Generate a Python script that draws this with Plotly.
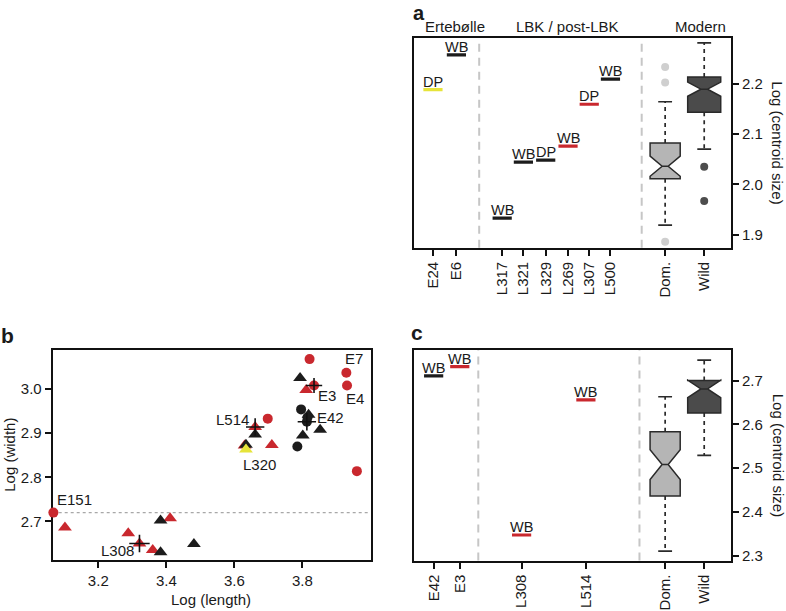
import plotly.graph_objects as go

# ---------------- data: panel a (upper right) ----------------
a_ticks = ["E24", "E6", "L317", "L321", "L329", "L269", "L307", "L500", "Dom.", "Wild"]
a_spec = ["E24", "E6", "L317", "L321", "L329", "L269", "L307", "L500"]
a_spec_label = ["DP", "WB", "WB", "WB", "DP", "WB", "DP", "WB"]
a_spec_value = [2.188, 2.257, 1.933, 2.044, 2.048, 2.076, 2.159, 2.209]
a_spec_group = ["Y", "K", "K", "K", "K", "R", "R", "K"]
a_box_name = ["Dom.", "Wild"]
a_box_q1 = [2.011, 2.143]
a_box_median = [2.036, 2.189]
a_box_q3 = [2.082, 2.213]
a_box_low = [1.919, 2.070]
a_box_high = [2.164, 2.281]
a_box_notch = [0.02, 0.014]
a_box_out = [[2.233, 2.202, 1.886], [2.035, 1.967]]
a_periods = ["Ertebølle", "LBK / post-LBK", "Modern"]
a_yticks = [1.9, 2.0, 2.1, 2.2]

# ---------------- data: panel c (lower right) ----------------
c_ticks = ["E42", "E3", "L308", "L514", "Dom.", "Wild"]
c_spec = ["E42", "E3", "L308", "L514"]
c_spec_label = ["WB", "WB", "WB", "WB"]
c_spec_value = [2.711, 2.732, 2.347, 2.656]
c_spec_group = ["K", "R", "R", "R"]
c_box_name = ["Dom.", "Wild"]
c_box_q1 = [2.436, 2.626]
c_box_median = [2.508, 2.681]
c_box_q3 = [2.583, 2.700]
c_box_low = [2.310, 2.529]
c_box_high = [2.663, 2.747]
c_box_notch = [0.034, 0.02]
c_yticks = [2.3, 2.4, 2.5, 2.6, 2.7]

# ---------------- data: panel b (scatter) ----------------
b_red_circle_x = [3.068, 3.821, 3.929, 3.931, 3.834, 3.698, 3.960]
b_red_circle_y = [2.720, 3.068, 3.037, 3.008, 3.008, 2.933, 2.814]
b_red_tri_x = [3.811, 3.661, 3.710, 3.630, 3.102, 3.288, 3.411, 3.321, 3.360]
b_red_tri_y = [2.998, 2.914, 2.873, 2.872, 2.686, 2.673, 2.707, 2.650, 2.635]
b_black_tri_x = [3.793, 3.661, 3.634, 3.801, 3.852, 3.818, 3.383, 3.383, 3.481]
b_black_tri_y = [3.025, 2.897, 2.874, 2.895, 2.908, 2.942, 2.702, 2.630, 2.649]
b_black_circle_x = [3.796, 3.815, 3.813, 3.785]
b_black_circle_y = [2.954, 2.936, 2.926, 2.870]
b_yellow_tri_x = [3.634]
b_yellow_tri_y = [2.863]
b_label_name = ["E151", "E7", "E4", "E3", "E42", "L514", "L320", "L308"]
b_label_x = [3.068, 3.929, 3.931, 3.834, 3.813, 3.661, 3.634, 3.321]
b_label_y = [2.720, 3.037, 3.008, 3.008, 2.926, 2.914, 2.863, 2.650]
b_err_x = [3.834, 3.813, 3.661, 3.321]
b_err_y = [3.008, 2.926, 2.914, 2.650]
b_err_dx = [0.024, 0.027, 0.027, 0.030]
b_err_dy = [0.017, 0.020, 0.020, 0.020]
b_ref_width = 2.72
b_xticks = [3.2, 3.4, 3.6, 3.8]
b_yticks = [2.7, 2.8, 2.9, 3.0]

# ---------------- layout / style ----------------
W, H = 786, 611
def PX(x):
    return x / W
def PY(y):
    return 1 - y / H

FONT = "Liberation Sans, Arial, Helvetica, sans-serif"
TXT = "#1a1a1a"
COL = {"K": "#1c1c1c", "R": "#c9282e", "Y": "#e6e43a"}
a_pos = dict(zip(a_ticks, [0.85, 1.9, 3.95, 4.9, 5.9, 6.9, 7.85, 8.8, 11.25, 13.0]))
c_pos = dict(zip(c_ticks, [0.88, 2.05, 4.82, 7.7, 11.25, 13.0]))
a_div = [2.92, 10.2]
c_div = [2.88, 10.1]
SEG = 0.43
CAP = 0.31
BOX_W = [1.35, 1.48]
BOX_FILL = ["#b5b5b5", "#4b4b4b"]
OUT_COL = ["#cfcfcf", "#4d4d4d"]
b_label_shift = {"E151": (21, 13), "E7": (8, 14), "E4": (8, -13), "E3": (13, -10),
                 "E42": (24, 4), "L514": (-23, 8), "L320": (14, -15), "L308": (-22, -7)}

fig = go.Figure()


def add_specimens(xa, ya, ids, labels, values, groups, pos):
    for sid, lab, val, g in zip(ids, labels, values, groups):
        x0 = pos[sid]
        fig.add_trace(go.Scatter(x=[x0 - SEG, x0 + SEG], y=[val, val], mode="lines",
                                 line=dict(color=COL[g], width=3.2), xaxis=xa, yaxis=ya,
                                 showlegend=False, hoverinfo="skip"))
        fig.add_annotation(x=x0, y=val, xref=xa, yref=ya, text=lab, showarrow=False,
                           yanchor="bottom", yshift=-2,
                           font=dict(size=14.5, color=TXT, family=FONT))


def add_boxes(xa, ya, names, q1, med, q3, lo, hi, notch, pos, outliers=None):
    for i, n in enumerate(names):
        x0 = pos[n]
        fig.add_trace(go.Box(x=[x0], q1=[q1[i]], median=[med[i]], q3=[q3[i]],
                             lowerfence=[q1[i]], upperfence=[q3[i]],
                             notched=True, notchspan=[notch[i]], notchwidth=0.4,
                             width=BOX_W[i], fillcolor=BOX_FILL[i],
                             line=dict(color="#2a2a2a", width=1.5), whiskerwidth=0,
                             boxpoints=False, xaxis=xa, yaxis=ya, showlegend=False,
                             hoverinfo="skip"))
        fig.add_trace(go.Scatter(x=[x0, x0, None, x0, x0],
                                 y=[q3[i], hi[i], None, q1[i], lo[i]], mode="lines",
                                 line=dict(color="#2a2a2a", width=1.7, dash="4px,4px"),
                                 xaxis=xa, yaxis=ya, showlegend=False, hoverinfo="skip"))
        fig.add_trace(go.Scatter(x=[x0 - CAP, x0 + CAP, None, x0 - CAP, x0 + CAP],
                                 y=[hi[i], hi[i], None, lo[i], lo[i]], mode="lines",
                                 line=dict(color="#2a2a2a", width=1.7),
                                 xaxis=xa, yaxis=ya, showlegend=False, hoverinfo="skip"))
        if outliers is not None:
            fig.add_trace(go.Scatter(x=[x0] * len(outliers[i]), y=outliers[i], mode="markers",
                                     marker=dict(color=OUT_COL[i], size=8),
                                     xaxis=xa, yaxis=ya, showlegend=False, hoverinfo="skip"))


# panel a
add_specimens("x2", "y2", a_spec, a_spec_label, a_spec_value, a_spec_group, a_pos)
add_boxes("x2", "y2", a_box_name, a_box_q1, a_box_median, a_box_q3, a_box_low, a_box_high,
          a_box_notch, a_pos, a_box_out)
# panel c
add_specimens("x3", "y3", c_spec, c_spec_label, c_spec_value, c_spec_group, c_pos)
add_boxes("x3", "y3", c_box_name, c_box_q1, c_box_median, c_box_q3, c_box_low, c_box_high,
          c_box_notch, c_pos)

# panel b
def pts(xs, ys, color, symbol, size, clip=True):
    fig.add_trace(go.Scatter(x=xs, y=ys, mode="markers", cliponaxis=clip,
                             marker=dict(color=color, symbol=symbol, size=size, line=dict(width=0)),
                             xaxis="x", yaxis="y", showlegend=False, hoverinfo="skip"))

pts(b_red_circle_x, b_red_circle_y, COL["R"], "circle", 10, clip=False)
pts(b_red_tri_x, b_red_tri_y, COL["R"], "triangle-up", 12)
pts(b_black_tri_x, b_black_tri_y, COL["K"], "triangle-up", 12)
pts(b_black_circle_x, b_black_circle_y, COL["K"], "circle", 10)
pts(b_yellow_tri_x, b_yellow_tri_y, COL["Y"], "triangle-up", 12)
cx, cy = [], []
for x, y, dx, dy in zip(b_err_x, b_err_y, b_err_dx, b_err_dy):
    cx += [x - dx, x + dx, None, x, x, None]
    cy += [y, y, None, y - dy, y + dy, None]
fig.add_trace(go.Scatter(x=cx, y=cy, mode="lines", line=dict(color="#111", width=1.6),
                         xaxis="x", yaxis="y", showlegend=False, hoverinfo="skip"))
for n, x, y in zip(b_label_name, b_label_x, b_label_y):
    sx, sy = b_label_shift[n]
    fig.add_annotation(x=x, y=y, xref="x", yref="y", text=n, showarrow=False,
                       xshift=sx, yshift=sy, font=dict(size=15, color=TXT, family=FONT))

shapes = []
for d in a_div:
    shapes.append(dict(type="line", xref="x2", yref="y2 domain", x0=d, x1=d, y0=0, y1=1,
                       line=dict(color="#c6c6c6", width=2, dash="8px,6px"), layer="below"))
for d in c_div:
    shapes.append(dict(type="line", xref="x3", yref="y3 domain", x0=d, x1=d, y0=0, y1=1,
                       line=dict(color="#c6c6c6", width=2, dash="8px,6px"), layer="below"))
shapes.append(dict(type="line", xref="x domain", yref="y", x0=0, x1=1, y0=b_ref_width,
                   y1=b_ref_width, line=dict(color="#a8a8a8", width=1.3, dash="dot"),
                   layer="below"))

ax_common = dict(showline=True, mirror=True, linecolor="#111", linewidth=2, ticks="outside",
                 ticklen=6, tickwidth=1.5, tickcolor="#111", showgrid=False, zeroline=False,
                 tickfont=dict(size=15, color=TXT, family=FONT), fixedrange=True)

fig.update_layout(
    width=W, height=H, margin=dict(l=0, r=0, t=0, b=0),
    paper_bgcolor="white", plot_bgcolor="white",
    font=dict(family=FONT, size=15, color=TXT),
    shapes=shapes,
    xaxis=dict(ax_common, domain=[PX(52.7), PX(370.5)], anchor="y", range=[3.066, 4.0],
               tickvals=b_xticks, tickformat=".1f", layer="below traces"),
    yaxis=dict(ax_common, domain=[PY(563), PY(351.7)], anchor="x", range=[2.612, 3.0887],
               tickvals=b_yticks, tickformat=".1f", layer="below traces"),
    xaxis2=dict(ax_common, domain=[PX(414), PX(731)], anchor="y2", range=[0, 14.2],
                tickvals=[a_pos[t] for t in a_ticks], ticktext=a_ticks, tickangle=-90),
    yaxis2=dict(ax_common, domain=[PY(249), PY(38)], anchor="x2", side="right",
                range=[1.874, 2.291], tickvals=a_yticks, tickformat=".1f"),
    xaxis3=dict(ax_common, domain=[PX(414), PX(731)], anchor="y3", range=[0, 14.2],
                tickvals=[c_pos[t] for t in c_ticks], ticktext=c_ticks, tickangle=-90),
    yaxis3=dict(ax_common, domain=[PY(563.3), PY(351.7)], anchor="x3", side="right",
                range=[2.2886, 2.770], tickvals=c_yticks, tickformat=".1f"),
)

def paper_text(x, y, text, size=15, angle=0, yanchor="middle"):
    fig.add_annotation(x=PX(x), y=PY(y), xref="paper", yref="paper", text=text,
                       showarrow=False, textangle=angle, xanchor="center", yanchor=yanchor,
                       font=dict(size=size, color=TXT, family=FONT))

for name, x in zip(a_periods, [455, 567, 700]):
    paper_text(x, 27, name)
paper_text(778, 143, "Log (centroid size)", angle=90)
paper_text(778, 457, "Log (centroid size)", angle=90)
paper_text(211, 602, "Log (length)")
paper_text(10, 457, "Log (width)", angle=-90)
paper_text(419, 0, "<b>a</b>", size=20, yanchor="top")
paper_text(7, 337, "<b>b</b>", size=21)
paper_text(417, 334, "<b>c</b>", size=21)

fig.write_html("out.html", config={"displayModeBar": False},
               post_script="document.body.style.margin='0';document.body.style.overflow='hidden';")
